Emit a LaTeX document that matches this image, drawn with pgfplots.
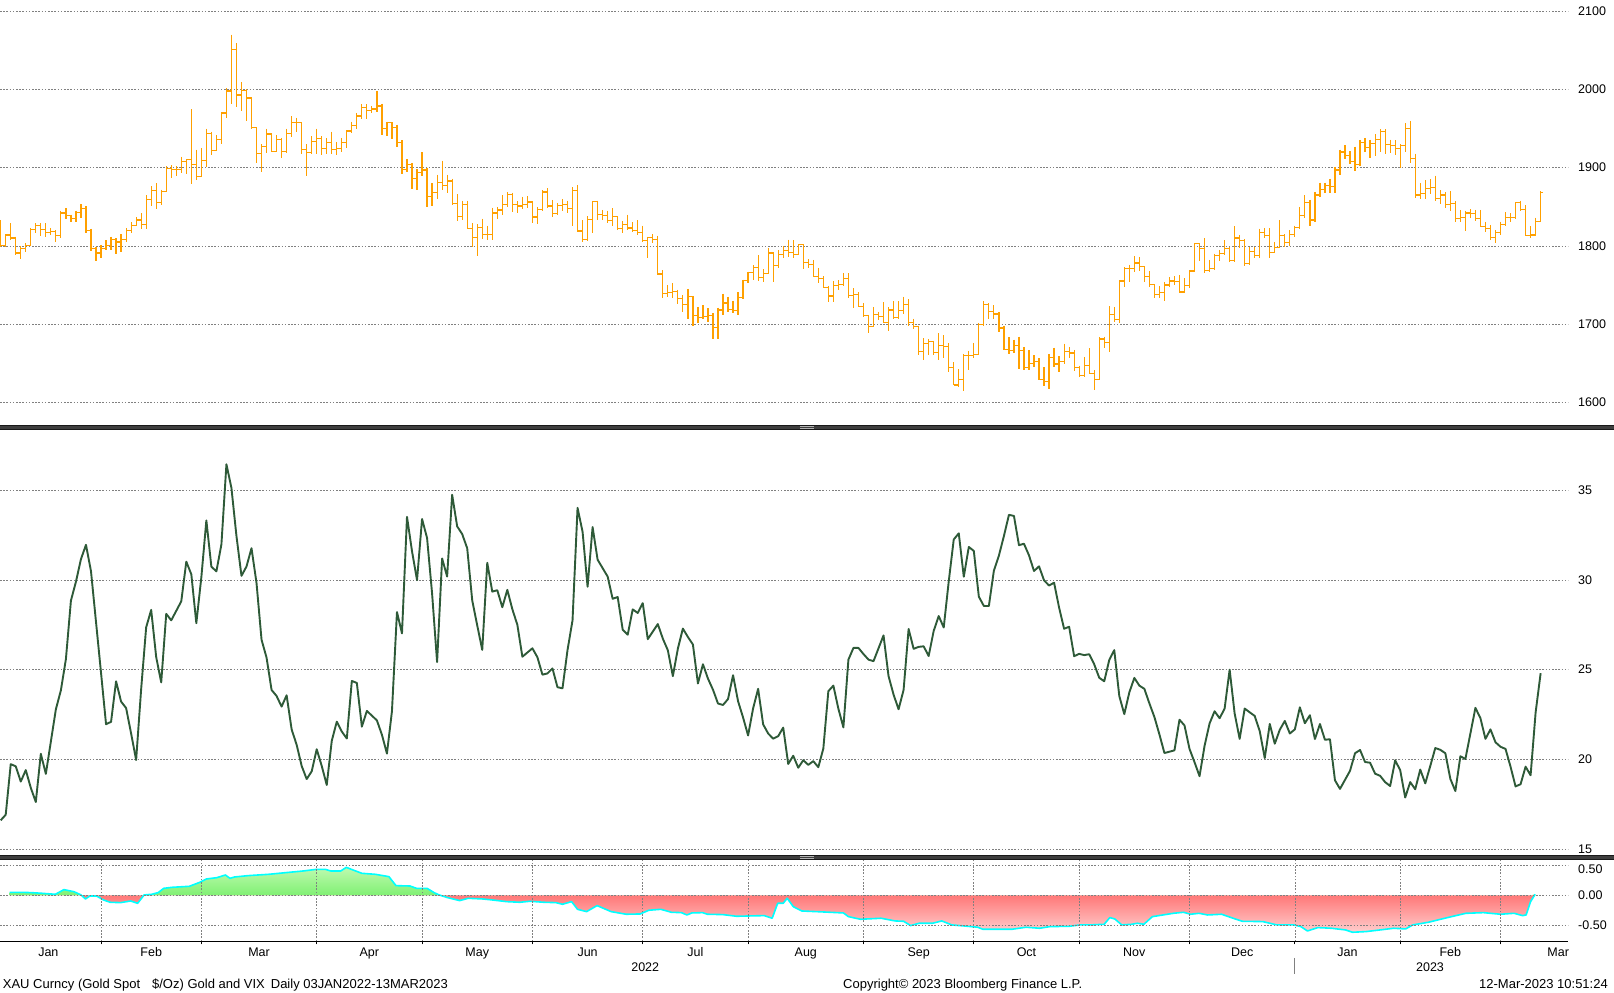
\documentclass[border=0pt]{standalone}
\usepackage{fontspec}
\setmainfont{Liberation Sans}
\usepackage{pgfplots}
\pgfplotsset{compat=1.18}
\usepackage{pgfplotstable}

\definecolor{goldc}{RGB}{255,160,0}
\definecolor{vixc}{RGB}{46,90,56}
\definecolor{cyanc}{RGB}{0,255,255}
\definecolor{gridc}{RGB}{128,128,128}
\definecolor{gtop}{RGB}{190,250,175}
\definecolor{gbot}{RGB}{128,240,115}
\definecolor{rtop}{RGB}{255,120,120}
\definecolor{rbot}{RGB}{255,205,205}
\definecolor{sepc}{RGB}{62,62,62}
\definecolor{sepe}{RGB}{25,25,25}
\newcommand{\lbl}{\fontsize{12.5}{15}\selectfont}
\newcommand{\ftr}{\fontsize{13}{15}\selectfont}

\pgfplotstableread{
k o h l c
0 1829 1833 1799 1801
1 1801 1815 1798 1814
2 1814 1829 1807 1810
3 1810 1812 1788 1791
4 1791 1800 1783 1797
5 1797 1804 1792 1801
6 1801 1823 1800 1821
7 1821 1829 1816 1826
8 1826 1829 1813 1821
9 1821 1829 1812 1817
10 1817 1823 1814 1818
11 1818 1820 1805 1813
12 1813 1845 1810 1842
13 1842 1848 1835 1839
14 1839 1840 1830 1835
15 1835 1845 1831 1843
16 1843 1853 1836 1848
17 1848 1851 1816 1820
18 1820 1822 1793 1797
19 1797 1799 1781 1791
20 1791 1801 1785 1797
21 1797 1807 1795 1801
22 1801 1812 1795 1808
23 1808 1810 1790 1805
24 1805 1815 1792 1808
25 1808 1823 1805 1820
26 1820 1830 1817 1826
27 1826 1837 1825 1833
28 1833 1842 1822 1827
29 1827 1865 1822 1859
30 1859 1876 1851 1871
31 1871 1880 1847 1855
32 1855 1872 1852 1870
33 1870 1902 1869 1899
34 1899 1903 1887 1898
35 1898 1902 1889 1898
36 1898 1914 1893 1908
37 1908 1911 1892 1910
38 1910 1975 1879 1904
39 1904 1923 1884 1889
40 1889 1925 1888 1909
41 1909 1950 1901 1944
42 1944 1946 1916 1922
43 1922 1942 1921 1936
44 1936 1971 1930 1970
45 1970 2002 1963 1998
46 1998 2070 1982 2051
47 2051 2059 1977 1993
48 1993 2009 1972 1999
49 1999 2000 1960 1989
50 1989 1990 1950 1951
51 1951 1951 1906 1918
52 1918 1930 1895 1927
53 1927 1950 1919 1943
54 1943 1944 1920 1921
55 1921 1942 1920 1936
56 1936 1938 1912 1921
57 1921 1950 1919 1944
58 1944 1966 1939 1958
59 1958 1964 1945 1958
60 1958 1958 1918 1923
61 1923 1930 1890 1919
62 1919 1940 1918 1933
63 1933 1950 1917 1937
64 1937 1940 1916 1925
65 1925 1938 1917 1932
66 1932 1946 1918 1923
67 1923 1933 1916 1925
68 1925 1938 1920 1932
69 1932 1948 1925 1947
70 1947 1959 1944 1954
71 1954 1970 1949 1966
72 1966 1981 1962 1977
73 1977 1981 1962 1973
74 1973 1979 1970 1975
75 1975 1998 1971 1979
76 1979 1982 1942 1950
77 1950 1959 1940 1958
78 1958 1958 1937 1951
79 1951 1955 1927 1932
80 1932 1935 1892 1898
81 1898 1911 1894 1904
82 1904 1906 1873 1886
83 1886 1898 1872 1894
84 1894 1920 1890 1897
85 1897 1900 1850 1863
86 1863 1880 1851 1868
87 1868 1891 1860 1881
88 1881 1909 1872 1877
89 1877 1891 1867 1883
90 1883 1886 1852 1854
91 1854 1866 1832 1838
92 1838 1858 1833 1853
93 1853 1858 1821 1822
94 1822 1829 1798 1811
95 1811 1828 1787 1824
96 1824 1835 1809 1815
97 1815 1826 1808 1815
98 1815 1849 1807 1842
99 1842 1850 1834 1846
100 1846 1865 1839 1853
101 1853 1869 1850 1866
102 1866 1868 1843 1853
103 1853 1857 1842 1851
104 1851 1863 1847 1853
105 1853 1864 1849 1856
106 1856 1857 1829 1837
107 1837 1850 1828 1847
108 1847 1871 1844 1869
109 1869 1874 1849 1851
110 1851 1859 1837 1841
111 1841 1855 1839 1852
112 1852 1860 1845 1853
113 1853 1858 1842 1848
114 1848 1875 1825 1871
115 1871 1878 1818 1819
116 1819 1833 1805 1808
117 1808 1838 1806 1834
118 1834 1857 1816 1857
119 1857 1858 1833 1840
120 1840 1846 1833 1839
121 1839 1845 1829 1832
122 1832 1848 1825 1838
123 1838 1838 1820 1822
124 1822 1832 1817 1827
125 1827 1840 1820 1823
126 1823 1830 1818 1820
127 1820 1833 1814 1817
128 1817 1826 1805 1807
129 1807 1812 1784 1811
130 1811 1815 1804 1808
131 1808 1813 1763 1764
132 1764 1769 1733 1739
133 1739 1750 1735 1740
134 1740 1752 1733 1742
135 1742 1744 1726 1733
136 1733 1737 1715 1725
137 1725 1745 1707 1735
138 1735 1736 1697 1711
139 1711 1722 1702 1708
140 1708 1724 1706 1710
141 1710 1720 1703 1711
142 1711 1714 1681 1696
143 1696 1721 1681 1718
144 1718 1739 1711 1727
145 1727 1735 1716 1719
146 1719 1730 1714 1717
147 1717 1741 1711 1734
148 1734 1757 1732 1756
149 1756 1767 1753 1766
150 1766 1775 1756 1772
151 1772 1788 1755 1760
152 1760 1770 1754 1765
153 1765 1797 1764 1791
154 1791 1792 1754 1775
155 1775 1795 1772 1789
156 1789 1800 1785 1794
157 1794 1808 1786 1792
158 1792 1807 1785 1789
159 1789 1802 1788 1802
160 1802 1802 1771 1779
161 1779 1783 1772 1776
162 1776 1782 1760 1761
163 1761 1772 1753 1758
164 1758 1761 1746 1747
165 1747 1749 1728 1736
166 1736 1755 1728 1749
167 1749 1756 1744 1751
168 1751 1765 1749 1758
169 1758 1765 1734 1737
170 1737 1746 1720 1738
171 1738 1741 1722 1723
172 1723 1727 1709 1711
173 1711 1712 1688 1697
174 1697 1722 1696 1712
175 1712 1716 1705 1710
176 1710 1728 1702 1702
177 1702 1722 1691 1718
178 1718 1729 1706 1708
179 1708 1729 1707 1717
180 1717 1735 1713 1725
181 1725 1732 1697 1702
182 1702 1707 1694 1697
183 1697 1698 1660 1665
184 1665 1682 1654 1675
185 1675 1681 1660 1678
186 1678 1679 1661 1664
187 1664 1688 1654 1673
188 1673 1686 1656 1671
189 1671 1676 1639 1644
190 1644 1651 1622 1622
191 1622 1642 1620 1629
192 1629 1662 1615 1660
193 1660 1666 1641 1660
194 1660 1676 1656 1661
195 1661 1702 1660 1699
196 1699 1729 1697 1725
197 1725 1727 1707 1716
198 1716 1724 1707 1713
199 1713 1715 1690 1695
200 1695 1698 1667 1668
201 1668 1683 1662 1666
202 1666 1680 1663 1673
203 1673 1684 1642 1666
204 1666 1671 1641 1644
205 1644 1667 1641 1650
206 1650 1660 1645 1652
207 1652 1656 1628 1629
208 1629 1645 1621 1627
209 1627 1662 1617 1657
210 1657 1670 1645 1649
211 1649 1659 1639 1652
212 1652 1675 1649 1665
213 1665 1671 1657 1663
214 1663 1667 1640 1645
215 1645 1647 1632 1634
216 1634 1658 1632 1647
217 1647 1669 1636 1637
218 1637 1641 1616 1629
219 1629 1683 1628 1681
220 1681 1684 1669 1676
221 1676 1723 1664 1712
222 1712 1722 1703 1706
223 1706 1756 1702 1755
224 1755 1773 1748 1771
225 1771 1776 1754 1771
226 1771 1787 1766 1778
227 1778 1786 1768 1774
228 1774 1774 1754 1761
229 1761 1768 1747 1751
230 1751 1751 1734 1738
231 1738 1749 1734 1740
232 1740 1754 1729 1750
233 1750 1760 1747 1755
234 1755 1761 1750 1754
235 1754 1763 1740 1741
236 1741 1759 1740 1749
237 1749 1769 1746 1768
238 1768 1804 1767 1803
239 1803 1804 1781 1797
240 1797 1810 1765 1769
241 1769 1782 1766 1771
242 1771 1790 1769 1788
243 1788 1795 1781 1790
244 1790 1807 1788 1797
245 1797 1798 1779 1781
246 1781 1825 1780 1810
247 1810 1814 1797 1807
248 1807 1809 1774 1777
249 1777 1799 1775 1793
250 1793 1798 1784 1788
251 1788 1822 1784 1817
252 1817 1823 1810 1813
253 1813 1823 1785 1792
254 1792 1805 1791 1798
255 1798 1833 1797 1813
256 1813 1815 1798 1804
257 1804 1820 1800 1815
258 1815 1826 1812 1824
259 1824 1850 1822 1839
260 1839 1865 1836 1855
261 1855 1859 1825 1833
262 1833 1869 1830 1865
263 1865 1881 1863 1872
264 1872 1881 1867 1877
265 1877 1886 1867 1876
266 1876 1901 1867 1897
267 1897 1923 1891 1920
268 1920 1929 1911 1916
269 1916 1921 1905 1908
270 1908 1927 1896 1904
271 1904 1935 1902 1932
272 1932 1938 1920 1926
273 1926 1936 1912 1931
274 1931 1943 1915 1936
275 1936 1949 1920 1946
276 1946 1949 1918 1930
277 1930 1936 1919 1928
278 1928 1935 1916 1925
279 1925 1930 1900 1928
280 1928 1957 1920 1950
281 1950 1960 1906 1912
282 1912 1918 1861 1865
283 1865 1880 1860 1867
284 1867 1884 1860 1873
285 1873 1885 1866 1875
286 1875 1890 1858 1861
287 1861 1871 1853 1865
288 1865 1869 1848 1853
289 1853 1870 1844 1854
290 1854 1857 1831 1835
291 1835 1846 1831 1836
292 1836 1845 1819 1842
293 1842 1847 1836 1841
294 1841 1846 1832 1835
295 1835 1846 1825 1825
296 1825 1831 1818 1822
297 1822 1827 1808 1811
298 1811 1820 1804 1817
299 1817 1831 1814 1827
300 1827 1843 1825 1836
301 1836 1842 1830 1836
302 1836 1856 1834 1855
303 1855 1858 1845 1847
304 1847 1852 1813 1813
305 1813 1825 1810 1814
306 1814 1836 1813 1831
307 1831 1870 1831 1868
}\gold

\pgfplotstableread{
k v
0 16.60
1 16.91
2 19.73
3 19.61
4 18.76
5 19.40
6 18.41
7 17.62
8 20.31
9 19.19
11 22.79
12 23.85
13 25.59
14 28.85
15 29.90
16 31.16
17 31.96
18 30.49
19 27.66
20 24.83
21 21.96
22 22.09
23 24.35
24 23.22
25 22.86
26 21.44
27 19.96
28 23.91
29 27.36
30 28.33
31 25.70
32 24.29
33 28.11
34 27.75
36 28.81
37 31.02
38 30.32
39 27.59
40 30.15
41 33.32
42 30.74
43 30.48
44 31.98
45 36.45
46 35.13
47 32.45
48 30.23
49 30.75
50 31.77
51 29.83
52 26.67
53 25.67
54 23.87
55 23.53
56 22.94
57 23.57
58 21.67
59 20.81
60 19.63
61 18.90
62 19.33
63 20.56
64 19.63
65 18.57
66 21.03
67 22.10
68 21.55
69 21.16
70 24.37
71 24.26
72 21.82
73 22.70
75 22.17
76 21.37
77 20.32
78 22.68
79 28.21
80 27.02
81 33.52
82 31.60
83 29.99
84 33.40
85 32.34
86 29.25
87 25.42
88 31.20
89 30.19
90 34.75
91 32.99
92 32.56
93 31.77
94 28.87
95 27.47
96 26.10
97 30.96
98 29.35
99 29.43
100 28.48
101 29.45
102 28.37
103 27.50
104 25.72
106 26.19
107 25.69
108 24.72
109 24.79
110 25.07
111 24.02
112 23.96
113 26.09
114 27.75
115 34.02
116 32.69
117 29.62
118 32.95
119 31.13
121 30.19
122 28.95
123 29.05
124 27.23
125 26.95
126 28.36
127 28.16
128 28.71
129 26.70
131 27.54
132 26.73
133 26.08
134 24.64
135 26.17
136 27.29
137 26.82
138 26.40
139 24.23
140 25.30
141 24.50
142 23.88
143 23.11
144 23.03
145 23.36
146 24.69
147 23.24
148 22.33
149 21.33
150 22.84
151 23.93
152 21.95
153 21.44
154 21.15
155 21.29
156 21.77
157 19.74
158 20.20
159 19.53
160 19.95
161 19.69
162 19.90
163 19.56
164 20.60
165 23.80
166 24.11
167 22.82
168 21.78
169 25.56
170 26.21
171 26.21
172 25.87
173 25.56
174 25.47
176 26.91
177 24.64
178 23.61
179 22.79
180 23.87
181 27.27
182 26.16
183 26.27
184 26.30
185 25.76
186 27.16
187 27.99
188 27.35
189 29.92
190 32.26
191 32.60
192 30.18
193 31.84
194 31.62
195 29.07
196 28.55
197 28.55
198 30.52
199 31.36
200 32.45
201 33.63
202 33.57
203 31.94
204 32.02
205 31.37
206 30.50
207 30.76
208 29.98
209 29.69
210 29.85
211 28.46
212 27.28
213 27.39
214 25.75
215 25.88
216 25.81
217 25.86
218 25.30
219 24.55
220 24.35
221 25.54
222 26.09
223 23.53
224 22.52
225 23.73
226 24.54
227 24.11
228 23.93
229 23.12
230 22.36
231 21.39
232 20.35
234 20.50
235 22.21
236 21.89
237 20.58
238 19.84
239 19.06
240 20.75
241 22.00
242 22.68
243 22.29
244 22.83
245 25.00
246 22.55
247 21.14
248 22.83
249 22.62
250 22.42
251 21.57
252 20.07
253 21.97
254 20.87
255 21.65
256 22.14
257 21.44
258 21.67
259 22.90
260 22.01
261 22.46
262 21.13
263 21.97
264 21.09
265 21.12
266 18.83
267 18.35
269 19.36
270 20.34
271 20.52
272 19.85
273 19.81
274 19.20
275 19.08
276 18.73
277 18.51
278 19.94
279 19.40
280 17.87
281 18.73
282 18.33
283 19.43
284 18.66
285 19.63
286 20.63
287 20.53
288 20.34
289 18.91
290 18.23
291 20.17
292 20.02
294 22.87
295 22.29
296 21.14
297 21.67
298 20.95
299 20.70
300 20.58
301 19.59
302 18.49
303 18.61
304 19.59
305 19.11
306 22.61
307 24.80
}\vix

\pgfplotstableread{
k c
1.8 0.050
4.0 0.050
6.0 0.045
8.0 0.035
10.9 0.017
12.6 0.095
14.6 0.061
16.0 0.006
16.9 -0.061
17.8 -0.011
19.1 -0.011
20.5 -0.078
21.8 -0.117
23.9 -0.123
25.9 -0.095
27.3 -0.134
28.6 0.006
30.1 0.017
31.4 0.045
32.5 0.117
34.2 0.134
37.6 0.151
39.7 0.218
41.0 0.274
43.1 0.296
44.8 0.341
45.7 0.285
46.6 0.307
49.3 0.330
53.4 0.352
56.8 0.380
60.3 0.408
63.0 0.436
64.7 0.436
65.8 0.408
67.8 0.408
68.9 0.469
69.9 0.436
72.0 0.369
74.7 0.352
77.4 0.313
78.8 0.162
81.6 0.156
82.9 0.117
85.0 0.117
86.4 0.045
87.4 0.006
89.1 -0.039
91.5 -0.089
93.2 -0.050
96.0 -0.061
98.0 -0.078
100.8 -0.106
103.5 -0.117
105.5 -0.100
108.3 -0.117
110.7 -0.123
112.0 -0.151
113.8 -0.106
115.0 -0.235
116.8 -0.274
118.9 -0.173
121.7 -0.274
124.7 -0.318
127.5 -0.313
129.2 -0.251
131.6 -0.235
133.7 -0.285
135.7 -0.291
136.8 -0.330
137.8 -0.296
139.9 -0.291
140.9 -0.318
144.0 -0.324
146.7 -0.352
149.5 -0.346
152.2 -0.341
153.8 -0.385
154.9 -0.134
156.0 -0.134
156.8 -0.050
158.0 -0.190
159.7 -0.263
163.9 -0.279
168.0 -0.296
169.0 -0.358
171.4 -0.402
175.5 -0.385
178.3 -0.430
180.0 -0.436
181.4 -0.508
183.1 -0.469
185.8 -0.469
187.6 -0.430
189.6 -0.497
192.0 -0.514
194.8 -0.536
195.8 -0.570
201.6 -0.570
204.4 -0.536
207.1 -0.553
209.2 -0.525
213.0 -0.520
215.2 -0.497
217.3 -0.497
220.0 -0.486
221.1 -0.374
222.1 -0.397
223.5 -0.497
225.5 -0.486
226.6 -0.469
227.9 -0.486
229.6 -0.358
231.7 -0.330
233.8 -0.302
235.8 -0.285
237.2 -0.318
238.9 -0.302
240.6 -0.330
243.4 -0.318
246.1 -0.397
247.5 -0.436
251.6 -0.441
254.4 -0.497
257.8 -0.497
259.2 -0.525
260.5 -0.598
262.6 -0.542
265.3 -0.553
268.1 -0.581
269.5 -0.620
272.2 -0.609
275.0 -0.581
277.7 -0.553
280.1 -0.564
281.5 -0.497
284.6 -0.453
287.3 -0.397
290.1 -0.341
292.1 -0.302
295.6 -0.291
299.0 -0.318
301.7 -0.302
303.4 -0.341
304.1 -0.330
305.0 -0.106
305.9 0.017
}\corr

\pgfplotsset{
  panel/.style={
    anchor=south west, scale only axis, width=1568pt,
    xmin=-0.14, xmax=312.46,
    axis line style={draw=none},
    major tick length=0pt,
    yticklabel pos=right, ytick pos=right,
    tick label style={font=\lbl, text=black},
    yticklabel style={anchor=west, inner sep=0pt, xshift=10pt},
    ymajorgrids=true,
    major grid style={draw=gridc, line width=0.7pt, dash pattern=on 1.6pt off 1.6pt},
    minor grid style={draw=gridc, line width=0.7pt, dash pattern=on 1.6pt off 1.6pt},
  },
  barstyle/.style={draw=none, mark=none,
    error bars/error mark=none,
    error bars/error bar style={draw=goldc, line width=1.2pt, line cap=butt}},
}

\begin{document}
\begin{tikzpicture}[x=1pt,y=1pt]

% ---------- top panel: gold OHLC ----------
\begin{axis}[panel, at={(0pt,568pt)}, height=425pt,
  ymin=1570.97, ymax=2114.45, xtick=\empty,
  ytick={1600,1700,1800,1900,2000,2100},
  yticklabels={1600,1700,1800,1900,2000,2100}]
\addplot[barstyle, error bars/.cd, y dir=minus, y explicit]
  table[x=k, y=h, y error expr=\thisrow{h}-\thisrow{l}] {\gold};
\addplot[barstyle, error bars/.cd, x dir=minus, x explicit]
  table[x=k, y=o, x error expr=0.5] {\gold};
\addplot[barstyle, error bars/.cd, x dir=plus, x explicit]
  table[x=k, y=c, x error expr=0.5] {\gold};
\end{axis}

% ---------- middle panel: VIX ----------
\begin{axis}[panel, at={(0pt,138pt)}, height=425pt,
  ymin=14.6655, ymax=38.362, xtick=\empty,
  ytick={15,20,25,30,35},
  yticklabels={15,20,25,30,35}]
\addplot[vixc, line width=1.9pt, line join=round, mark=none] table[x=k, y=v] {\vix};
\end{axis}

% ---------- bottom panel: correlation ----------
\begin{axis}[panel, at={(0pt,51.7pt)}, height=81.3pt,
  ymin=-0.7718, ymax=0.5923, axis on top,
  xtick={9.5,30,51.5,73.5,95,117,138.5,160.5,183,204.5,226,247.5,268.5,289,310.5},
  xticklabels={Jan,Feb,Mar,Apr,May,Jun,Jul,Aug,Sep,Oct,Nov,Dec,Jan,Feb,Mar},
  minor xtick={20,40,63,84,106,128,149,172,194,215,237,258,279,299},
  xtick pos=left, tick align=outside,
  minor tick length=3pt,
  minor tick style={draw=black, line width=1pt},
  xmajorgrids=false, xminorgrids=true,
  xticklabel style={anchor=base, inner sep=0pt, yshift=-15pt},
  ytick={-0.5,0}, yticklabels={-0.50,0.00},
  extra y ticks={0.5}, extra y tick labels={0.50},
  extra y tick style={yticklabel style={yshift=-3.5pt}}]
\addplot[draw=none, top color=gtop, bottom color=gbot]
  table[x=k, y expr={max(\thisrow{c},0)}] {\corr} \closedcycle;
\addplot[draw=none, top color=rtop, bottom color=rbot]
  table[x=k, y expr={min(\thisrow{c},0)}] {\corr} \closedcycle;
\addplot[cyanc, line width=1.6pt, line join=round, mark=none] table[x=k, y=c] {\corr};
\end{axis}

% ---------- separators ----------
\foreach \yb in {563,133}{
  \fill[sepc] (0,\yb) rectangle (1614,\yb+5);
  \draw[sepe, line width=1.2pt] (0,\yb+0.6) -- (1614,\yb+0.6);
  \draw[sepe, line width=1.2pt] (0,\yb+4.4) -- (1614,\yb+4.4);
  \draw[gray!60, line width=0.6pt] (800,\yb+2) -- (814,\yb+2);
  \draw[gray!60, line width=0.6pt] (800,\yb+3.2) -- (814,\yb+3.2);
}
% bottom axis line
\draw[black, line width=1.4pt] (0,51.7) -- (1568,51.7);

% year labels and separator
\node[anchor=base, inner sep=0pt, font=\lbl] at (645.2,21.2) {2022};
\node[anchor=base, inner sep=0pt, font=\lbl] at (1430,21.2) {2023};
\draw[gray, line width=1pt] (1294.8,35) -- (1294.8,19);

% footer
\node[anchor=base west, inner sep=0pt, font=\ftr] at (2.7,4.5)
  {XAU Curncy (Gold Spot\hspace{12pt}\$/Oz) Gold and VIX\hspace{6pt}Daily 03JAN2022-13MAR2023};
\node[anchor=base west, inner sep=0pt, font=\ftr] at (843,4.5)
  {Copyright\textcopyright{} 2023 Bloomberg Finance L.P.};
\node[anchor=base east, inner sep=0pt, font=\ftr] at (1608,4.5)
  {12-Mar-2023 10:51:24};

\pgfresetboundingbox
\path[use as bounding box] (0,0) rectangle (1614,993);
\end{tikzpicture}
\end{document}
